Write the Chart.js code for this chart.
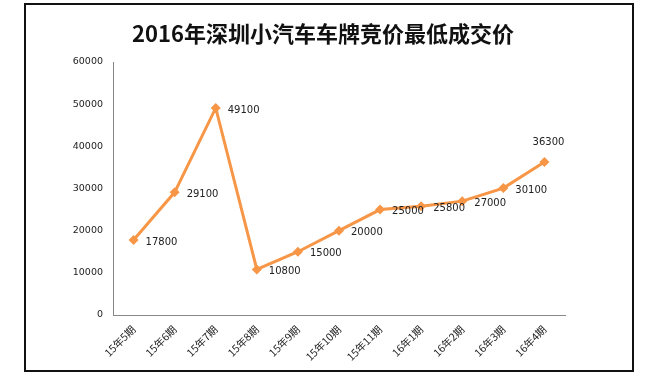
<!DOCTYPE html>
<html>
<head>
<meta charset="utf-8">
<script src="https://cdn.jsdelivr.net/npm/chart.js@4"></script>
<style>
  html, body { margin: 0; padding: 0; background: #fff; }
  #frame { position: absolute; left: 24px; top: 3px; width: 606px; height: 365px; border: 2px solid #111; }
  #wrap { position: absolute; left: 0; top: 0; width: 649px; height: 376px; }
</style>
</head>
<body>
<div id="frame"></div>
<div id="wrap"><canvas id="myChart" width="649" height="376"></canvas></div>
<script>
var chartTitle = '2016年深圳小汽车车牌竞价最低成交价';
var periods = ['15年5期', '15年6期', '15年7期', '15年8期', '15年9期', '15年10期', '15年11期', '16年1期', '16年2期', '16年3期', '16年4期'];
var prices = [17800, 29100, 49100, 10800, 15000, 20000, 25000, 25800, 27000, 30100, 36300];
var orange = '#F79646';

// title is centred on the frame, not on the plot, so draw it by hand
var frameTitle = {
  id: 'frameTitle',
  afterDraw: function (chart) {
    var c = chart.ctx;
    c.save();
    c.font = 'bold 22px "Noto Sans CJK SC"';
    c.fillStyle = '#111';
    c.textAlign = 'center';
    c.textBaseline = 'middle';
    c.fillText(chartTitle, 323, 34);
    c.restore();
  }
};

// labels next to each point, the last one goes above
var pointLabels = {
  id: 'pointLabels',
  afterDatasetsDraw: function (chart) {
    var c = chart.ctx;
    var meta = chart.getDatasetMeta(0);
    c.save();
    c.font = '10px "DejaVu Sans"';
    c.fillStyle = '#222';
    c.textBaseline = 'middle';
    meta.data.forEach(function (pt, i) {
      var txt = String(prices[i]);
      if (i === meta.data.length - 1) {
        c.textAlign = 'center';
        c.fillText(txt, pt.x + 4, pt.y - 20);
      } else {
        c.textAlign = 'left';
        c.fillText(txt, pt.x + 12, pt.y + 2);
      }
    });
    c.restore();
  }
};

var ctx = document.getElementById('myChart').getContext('2d');
var myChart = new Chart(ctx, {
  type: 'line',
  data: {
    labels: periods,
    datasets: [{
      data: prices,
      borderColor: orange,
      backgroundColor: orange,
      borderWidth: 3,
      pointStyle: 'rectRot',
      pointRadius: 5,
      pointBorderWidth: 0,
      tension: 0
    }]
  },
  options: {
    responsive: false,
    animation: false,
    layout: { padding: { top: 62, right: 84, bottom: 0, left: 0 } },
    plugins: {
      legend: { display: false },
      tooltip: { enabled: false },
      title: { display: false }
    },
    scales: {
      x: {
        offset: true,
        grid: { display: false, drawTicks: false },
        border: { color: '#888', width: 1 },
        ticks: {
          color: '#222',
          font: { family: '"Noto Sans CJK SC"', size: 10.5 },
          maxRotation: 45,
          minRotation: 45,
          padding: 8
        },
        afterFit: function (s) { s.height = 61; }
      },
      y: {
        min: 0,
        max: 60000,
        grid: { display: false, drawTicks: false },
        border: { color: '#888', width: 1 },
        ticks: {
          stepSize: 10000,
          color: '#222',
          font: { family: '"DejaVu Sans"', size: 9.5 },
          padding: 10,
          callback: function (v) { return String(v); }
        },
        afterFit: function (s) { s.width = 113; }
      }
    }
  },
  plugins: [pointLabels, frameTitle]
});
</script>
</body>
</html>
